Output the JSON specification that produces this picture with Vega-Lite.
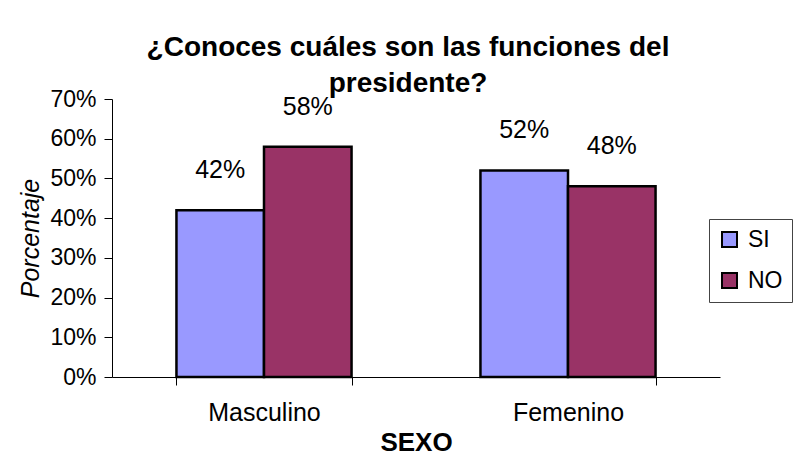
{
  "$schema": "https://vega.github.io/schema/vega-lite/v6.json",
  "width": 608,
  "height": 278,
  "autosize": "none",
  "padding": {"left": 112, "top": 99, "right": 78, "bottom": 85},
  "background": "white",
  "config": {"font": "Liberation Sans", "view": {"stroke": null}},
  "title": {
    "text": ["¿Conoces cuáles son las funciones del", "presidente?"],
    "font": "Liberation Sans",
    "fontSize": 28,
    "fontWeight": "bold",
    "color": "black",
    "lineHeight": 36,
    "anchor": "middle",
    "dx": -8,
    "offset": -10
  },
  "data": {
    "values": [
      {"sexo": "Masculino", "resp": "SI", "pct": 0.42},
      {"sexo": "Masculino", "resp": "NO", "pct": 0.58},
      {"sexo": "Femenino", "resp": "SI", "pct": 0.52},
      {"sexo": "Femenino", "resp": "NO", "pct": 0.48}
    ]
  },
  "encoding": {
    "x": {
      "field": "sexo",
      "type": "nominal",
      "sort": ["Masculino", "Femenino"],
      "scale": {"paddingInner": 0.424, "paddingOuter": 0.212},
      "title": "SEXO",
      "axis": {
        "labelAngle": 0,
        "labelFontSize": 25,
        "labelColor": "black",
        "labelPadding": 15,
        "domainColor": "black",
        "tickColor": "black",
        "tickSize": 8,
        "tickBand": "extent",
        "titleFontSize": 26,
        "titleFontWeight": "bold",
        "titleColor": "black",
        "titlePadding": 4
      }
    },
    "xOffset": {"field": "resp", "sort": ["SI", "NO"], "scale": {"paddingInner": 0, "paddingOuter": 0}},
    "y": {
      "field": "pct",
      "type": "quantitative",
      "scale": {"domain": [0, 0.7], "nice": false},
      "title": "Porcentaje",
      "axis": {
        "format": "%",
        "values": [0, 0.1, 0.2, 0.3, 0.4, 0.5, 0.6, 0.7],
        "grid": false,
        "labelFontSize": 23,
        "labelColor": "black",
        "labelPadding": 8,
        "domainColor": "black",
        "tickColor": "black",
        "tickSize": 8,
        "titleFontSize": 25,
        "titleFontStyle": "italic",
        "titleFontWeight": "normal",
        "titleColor": "black",
        "titlePadding": 6
      }
    }
  },
  "layer": [
    {
      "mark": {"type": "bar", "stroke": "black", "strokeWidth": 2.5},
      "encoding": {
        "color": {
          "field": "resp",
          "type": "nominal",
          "scale": {"domain": ["SI", "NO"], "range": ["#9999FF", "#993366"]},
          "legend": {
            "orient": "none",
            "legendX": 597,
            "legendY": 120,
            "title": null,
            "strokeColor": "#444444",
            "fillColor": "white",
            "padding": 9,
            "symbolType": "square",
            "symbolSize": 225,
            "symbolStrokeColor": "black",
            "symbolStrokeWidth": 2,
            "symbolOpacity": 1,
            "labelFontSize": 23,
            "labelColor": "black",
            "labelOffset": 7,
            "rowPadding": 17
          }
        }
      }
    },
    {
      "mark": {"type": "text", "dy": -40, "fontSize": 25, "color": "black", "baseline": "middle"},
      "encoding": {"text": {"field": "pct", "type": "quantitative", "format": ".0%"}}
    }
  ]
}
